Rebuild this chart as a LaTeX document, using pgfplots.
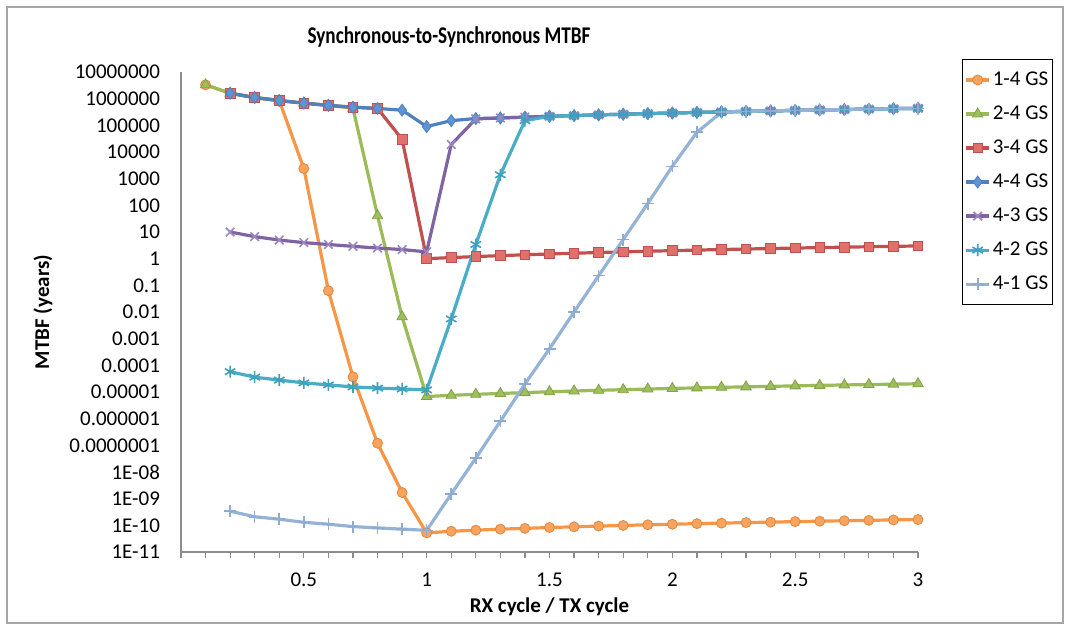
\documentclass[border=0pt]{standalone}
\usepackage{fontspec}
\setmainfont{Carlito}
\usepackage{graphicx}
\usepackage{pgfplots}
\pgfplotsset{compat=1.18}

\definecolor{c1}{HTML}{F79646}\definecolor{m1}{HTML}{F9A45E}
\definecolor{c2}{HTML}{9BBB59}\definecolor{m2}{HTML}{9DC05A}
\definecolor{c3}{HTML}{C0504D}\definecolor{m3}{HTML}{E0706C}
\definecolor{c4}{HTML}{4F81BD}\definecolor{m4}{HTML}{5F93D3}
\definecolor{c5}{HTML}{8064A2}\definecolor{m5}{HTML}{9C88BE}
\definecolor{c6}{HTML}{4BACC6}\definecolor{m6}{HTML}{3FA0BC}
\definecolor{c7}{HTML}{95B3D7}\definecolor{m7}{HTML}{8EABD0}

\pgfplotsset{
  legend image code/.code={\draw[mark repeat=2,mark phase=2,#1] plot coordinates {(0pt,0pt)(5.75pt,0pt)(11.5pt,0pt)};},
  ser/.style={line width=1.6pt, mark size=2.5pt, mark options={solid}},
}

\begin{document}
\begin{tikzpicture}
% outer chart frame and page size
\path (-90.5pt,-38pt) rectangle (444.5pt,276pt);
\draw[black!35, line width=0.6pt] (-87pt,-35.5pt) rectangle (441pt,272.5pt);
\begin{axis}[
  scale only axis,
  width=368.5pt, height=240pt,
  xmin=0, xmax=3,
  ymode=log, ymin=1e-11, ymax=1e7,
  axis x line*=bottom, axis y line*=left,
  axis line style={-, draw=black!45, line width=0.6pt},
  xtick={0.5,1,1.5,2,2.5,3},
  xticklabels={0.5,1,1.5,2,2.5,3},
  minor xtick={0,0.1,0.2,0.3,0.4,0.6,0.7,0.8,0.9,1.1,1.2,1.3,1.4,1.6,1.7,1.8,1.9,2.1,2.2,2.3,2.4,2.6,2.7,2.8,2.9},
  tick align=outside,
  major tick length=3pt, minor tick length=3pt,
  xtick style={draw=black!45, line width=0.6pt},
  ytick={1e-11,1e-10,1e-9,1e-8,1e-7,1e-6,1e-5,1e-4,1e-3,1e-2,1e-1,1,10,100,1000,10000,100000,1000000,10000000},
  yticklabels={1E-11,1E-10,1E-09,1E-08,0.0000001,0.000001,0.00001,0.0001,0.001,0.01,0.1,1,10,100,1000,10000,100000,1000000,10000000},
  ytick style={draw=none},
  yminorticks=false,
  tick label style={font=\fontsize{10.5}{12}\selectfont},
  yticklabel style={xshift=-4pt},
  xticklabel style={yshift=-4pt},
  title={\scalebox{0.8}[1]{Synchronous-to-Synchronous MTBF}},
  title style={font=\bfseries\fontsize{12}{14}\selectfont, at={(axis description cs:0.3636,1.048)}, anchor=center},
  xlabel={RX cycle / TX cycle},
  xlabel style={font=\bfseries\fontsize{10.5}{12}\selectfont, at={(axis description cs:0.5,-0.1146)}, anchor=center},
  ylabel={MTBF (years)},
  ylabel style={font=\bfseries\fontsize{10.5}{12}\selectfont, at={(axis description cs:-0.1872,0.5)}, anchor=center, rotate=0},
  legend style={at={(axis description cs:1.0597,1.027)}, anchor=north west,
    draw=black, line width=0.6pt, font=\fontsize{10.5}{12}\selectfont,
    row sep=4.7pt, inner xsep=1pt, inner ysep=4pt,
    nodes={inner xsep=1pt}},
  legend cell align=left,
  clip=false,
]
\addplot[ser, c1, mark=*, mark options={fill=m1, draw=c1!90!black, line width=0.4pt}] coordinates {
(0.1,3.3e6)(0.2,1.6e6)(0.3,1.1e6)(0.4,8.5e5)(0.5,2.4e3)(0.6,6.3e-2)(0.7,3.7e-5)(0.8,1.2e-7)(0.9,1.7e-9)(1.0,5.2e-11)
(1.1,6.0e-11)(1.2,6.6e-11)(1.3,7.2e-11)(1.4,7.7e-11)(1.5,8.3e-11)(1.6,8.8e-11)(1.7,9.4e-11)(1.8,9.9e-11)(1.9,1.05e-10)(2.0,1.1e-10)
(2.1,1.16e-10)(2.2,1.21e-10)(2.3,1.27e-10)(2.4,1.32e-10)(2.5,1.38e-10)(2.6,1.43e-10)(2.7,1.49e-10)(2.8,1.54e-10)(2.9,1.6e-10)(3.0,1.65e-10)};
\addlegendentry{1-4 GS}
\addplot[ser, c2, mark=triangle*, mark size=3pt, mark options={fill=m2, draw=c2!85!black, line width=0.4pt}] coordinates {
(0.1,3.3e6)(0.2,1.6e6)(0.3,1.1e6)(0.4,8.5e5)(0.5,6.8e5)(0.6,5.6e5)(0.7,4.4e5)(0.8,41)(0.9,6.6e-3)(1.0,6.8e-6)
(1.1,7.5e-6)(1.2,8.2e-6)(1.3,8.8e-6)(1.4,9.5e-6)(1.5,1.02e-5)(1.6,1.09e-5)(1.7,1.16e-5)(1.8,1.22e-5)(1.9,1.29e-5)(2.0,1.36e-5)
(2.1,1.43e-5)(2.2,1.5e-5)(2.3,1.56e-5)(2.4,1.63e-5)(2.5,1.7e-5)(2.6,1.77e-5)(2.7,1.84e-5)(2.8,1.9e-5)(2.9,1.97e-5)(3.0,2.04e-5)};
\addlegendentry{2-4 GS}
\addplot[ser, c3, mark=square*, mark size=2.4pt, mark options={fill=m3, draw=c3, line width=0.4pt}] coordinates {
(0.2,1.6e6)(0.3,1.1e6)(0.4,8.5e5)(0.5,6.8e5)(0.6,5.6e5)(0.7,4.8e5)(0.8,4.3e5)(0.9,3.0e4)(1.0,1.0)
(1.1,1.1)(1.2,1.2)(1.3,1.3)(1.4,1.4)(1.5,1.5)(1.6,1.6)(1.7,1.7)(1.8,1.8)(1.9,1.9)(2.0,2.0)
(2.1,2.1)(2.2,2.2)(2.3,2.3)(2.4,2.4)(2.5,2.5)(2.6,2.6)(2.7,2.7)(2.8,2.8)(2.9,2.9)(3.0,3.0)};
\addlegendentry{3-4 GS}
\addplot[ser, c4, mark=diamond*, mark size=3pt, mark options={fill=m4, draw=c4, line width=0.4pt}] coordinates {
(0.2,1.6e6)(0.3,1.1e6)(0.4,8.5e5)(0.5,6.8e5)(0.6,5.6e5)(0.7,4.8e5)(0.8,4.3e5)(0.9,3.7e5)(1.0,9.0e4)
(1.1,1.5e5)(1.2,1.8e5)(1.3,1.89e5)(1.4,2.03e5)(1.5,2.18e5)(1.6,2.32e5)(1.7,2.47e5)(1.8,2.61e5)(1.9,2.76e5)(2.0,2.9e5)
(2.1,3.05e5)(2.2,3.19e5)(2.3,3.34e5)(2.4,3.48e5)(2.5,3.63e5)(2.6,3.77e5)(2.7,3.92e5)(2.8,4.06e5)(2.9,4.21e5)(3.0,4.35e5)};
\addlegendentry{4-4 GS}
\addplot[ser, c5, mark=x, mark size=3pt, mark options={draw=m5, line width=0.8pt}] coordinates {
(0.2,10)(0.3,6.7)(0.4,5.0)(0.5,4.0)(0.6,3.4)(0.7,2.9)(0.8,2.5)(0.9,2.2)(1.0,1.8)
(1.1,1.9e4)(1.2,1.74e5)(1.3,1.89e5)(1.4,2.03e5)(1.5,2.18e5)(1.6,2.32e5)(1.7,2.47e5)(1.8,2.61e5)(1.9,2.76e5)(2.0,2.9e5)
(2.1,3.05e5)(2.2,3.19e5)(2.3,3.34e5)(2.4,3.48e5)(2.5,3.63e5)(2.6,3.77e5)(2.7,3.92e5)(2.8,4.06e5)(2.9,4.21e5)(3.0,4.35e5)};
\addlegendentry{4-3 GS}
\addplot[ser, c6, mark=asterisk, mark size=3pt, mark options={draw=m6, line width=0.8pt}] coordinates {
(0.2,5.8e-5)(0.3,3.6e-5)(0.4,2.8e-5)(0.5,2.2e-5)(0.6,1.85e-5)(0.7,1.55e-5)(0.8,1.4e-5)(0.9,1.3e-5)(1.0,1.2e-5)
(1.1,5.5e-3)(1.2,3.4)(1.3,1.4e3)(1.4,1.5e5)(1.5,2.18e5)(1.6,2.32e5)(1.7,2.47e5)(1.8,2.61e5)(1.9,2.76e5)(2.0,2.9e5)
(2.1,3.05e5)(2.2,3.19e5)(2.3,3.34e5)(2.4,3.48e5)(2.5,3.63e5)(2.6,3.77e5)(2.7,3.92e5)(2.8,4.06e5)(2.9,4.21e5)(3.0,4.35e5)};
\addlegendentry{4-2 GS}
\addplot[ser, c7, mark=+, mark size=3pt, mark options={draw=m7, line width=0.8pt}] coordinates {
(0.2,3.4e-10)(0.3,2.1e-10)(0.4,1.7e-10)(0.5,1.3e-10)(0.6,1.1e-10)(0.7,9.0e-11)(0.8,8.0e-11)(0.9,7.2e-11)(1.0,6.5e-11)
(1.1,1.5e-9)(1.2,3.3e-8)(1.3,8.0e-7)(1.4,2.0e-5)(1.5,4.2e-4)(1.6,1.0e-2)(1.7,0.23)(1.8,5.2)(1.9,117)(2.0,2.9e3)
(2.1,5.5e4)(2.2,3.1e5)(2.3,3.34e5)(2.4,3.48e5)(2.5,3.63e5)(2.6,3.77e5)(2.7,3.92e5)(2.8,4.06e5)(2.9,4.21e5)(3.0,4.35e5)};
\addlegendentry{4-1 GS}
\end{axis}
\end{tikzpicture}
\end{document}
